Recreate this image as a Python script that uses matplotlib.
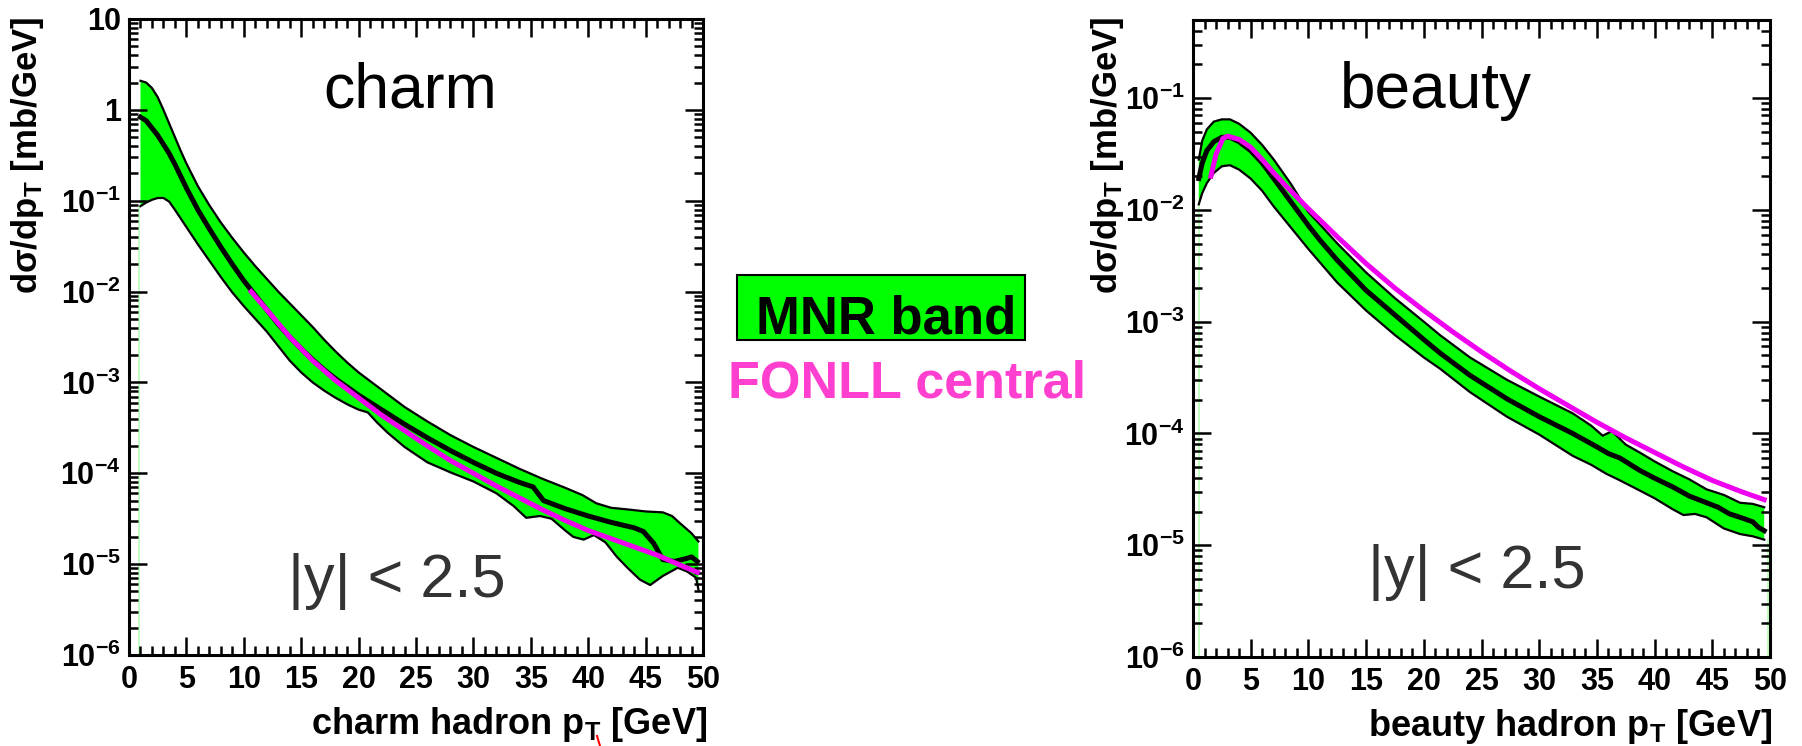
import numpy as np
import matplotlib
matplotlib.use("Agg")
import matplotlib.pyplot as plt
from matplotlib.ticker import FixedLocator, FixedFormatter, LogLocator, MultipleLocator, NullFormatter
from matplotlib.patches import Rectangle
from matplotlib.lines import Line2D

plt.rcParams['font.family'] = ['Liberation Sans', 'DejaVu Sans']
plt.rcParams['mathtext.fontset'] = 'custom'
plt.rcParams['mathtext.rm'] = 'Liberation Sans:bold'
plt.rcParams['mathtext.bf'] = 'Liberation Sans:bold'
plt.rcParams['mathtext.it'] = 'Liberation Sans:bold'
plt.rcParams['mathtext.sf'] = 'Liberation Sans:bold'
plt.rcParams['mathtext.default'] = 'rm'

# ---------------- data (log10 of dsigma/dpT in mb/GeV) ----------------
# charm
charm_up_pt = [1.0, 1.5, 2.0, 2.5, 3.0, 3.5, 4.0, 4.5, 5.0, 6.0, 7.0, 8.0, 9.0, 10.0, 11.0, 12.0,
               13.0, 14.0, 15.0, 16.0, 17.0, 18.0, 19.0, 20.0, 22.0, 24.0, 26.0, 28.0, 30.0, 32.0,
               34.0, 36.0, 38.0, 39.5, 40.7, 42.0, 43.6, 45.0, 46.5, 47.3, 48.0, 49.0, 49.6]
charm_up_log = [0.32, 0.30, 0.24, 0.14, 0.0, -0.15, -0.30, -0.45, -0.59, -0.84, -1.05, -1.24, -1.41,
                -1.57, -1.72, -1.86, -2.00, -2.13, -2.26, -2.39, -2.53, -2.66, -2.78, -2.89, -3.08,
                -3.27, -3.43, -3.58, -3.71, -3.83, -3.95, -4.06, -4.16, -4.24, -4.33, -4.38, -4.40,
                -4.42, -4.43, -4.47, -4.55, -4.66, -4.75]
charm_mid_pt = [1.0, 1.5, 2.0, 2.5, 3.0, 3.5, 4.0, 4.5, 5.0, 6.0, 7.0, 8.0, 9.0, 10.0, 11.0, 12.0,
                13.0, 14.0, 15.0, 16.0, 17.0, 18.0, 20.0, 22.0, 24.0, 26.0, 28.0, 30.0, 32.0, 34.0,
                35.2, 36.1, 38.0, 40.0, 42.0, 44.0, 44.8, 45.7, 46.5, 47.5, 48.5, 49.0, 49.5]
charm_mid_log = [-0.08, -0.12, -0.20, -0.28, -0.38, -0.48, -0.60, -0.73, -0.86, -1.10, -1.31, -1.51,
                 -1.70, -1.88, -2.04, -2.20, -2.36, -2.50, -2.63, -2.75, -2.86, -2.96, -3.14, -3.30,
                 -3.46, -3.61, -3.75, -3.88, -4.00, -4.10, -4.15, -4.30, -4.39, -4.47, -4.54, -4.60,
                 -4.64, -4.77, -4.95, -4.97, -4.94, -4.92, -4.97]
charm_lo_pt = [1.0, 1.5, 2.0, 2.5, 3.0, 3.5, 4.0, 5.0, 6.0, 7.0, 8.0, 9.0, 10.0, 11.0, 12.0, 13.0,
               14.0, 15.0, 16.0, 17.0, 18.0, 19.0, 20.0, 20.8, 21.6, 22.5, 24.0, 26.0, 28.0, 30.0,
               32.0, 33.5, 34.6, 35.8, 36.8, 38.0, 38.7, 39.6, 40.5, 41.5, 42.5, 43.5, 44.5, 45.4,
               46.5, 47.8, 48.6, 49.4, 49.6]
charm_lo_log = [-1.06, -1.02, -0.99, -0.97, -0.97, -1.01, -1.10, -1.29, -1.48, -1.66, -1.84, -2.01,
                -2.16, -2.30, -2.44, -2.60, -2.76, -2.89, -3.00, -3.09, -3.17, -3.24, -3.30, -3.33,
                -3.44, -3.55, -3.71, -3.88, -3.99, -4.09, -4.22, -4.36, -4.49, -4.47, -4.50, -4.63,
                -4.70, -4.73, -4.68, -4.76, -4.92, -5.05, -5.17, -5.23, -5.13, -5.04, -5.08, -5.15,
                -5.28]
charm_fonll_pt = [10.5, 12, 14, 16, 18, 20, 22, 24, 26, 28, 30, 32, 34, 36, 38, 40, 42, 44, 46, 48, 49.7]
charm_fonll_log = [-1.98, -2.20, -2.50, -2.76, -2.98, -3.17, -3.36, -3.53, -3.70, -3.86, -4.00,
                   -4.14, -4.27, -4.40, -4.52, -4.63, -4.72, -4.81, -4.90, -5.01, -5.10]

# beauty
beauty_up_pt = [0.5, 0.8, 1.2, 1.8, 2.5, 3.2, 4.0, 5.0, 6.0, 7.0, 8.5, 10, 11, 12.5, 15, 17.5, 20,
                21.4, 24, 27.2, 30, 32.9, 34.5, 35.5, 36.3, 37.5, 38.7, 40.0, 41.6, 43, 44.5, 46,
                47.4, 48.5, 49.5]
beauty_up_log = [-1.55, -1.38, -1.28, -1.21, -1.19, -1.19, -1.23, -1.31, -1.42, -1.55, -1.77, -2.02,
                 -2.13, -2.30, -2.56, -2.79, -3.00, -3.12, -3.32, -3.52, -3.67, -3.82, -3.93, -4.02,
                 -3.98, -4.10, -4.17, -4.25, -4.34, -4.41, -4.50, -4.55, -4.62, -4.63, -4.66]
beauty_mid_pt = [0.5, 0.8, 1.2, 1.8, 2.5, 3.2, 4.0, 5.0, 6.0, 7.0, 8.5, 10, 11, 12.5, 15, 17.5, 20,
                 21.4, 24, 27.2, 30, 32.9, 35, 36, 37, 38.7, 40, 41.6, 43, 44.5, 45.5, 46.5, 47.4,
                 48.5, 49.0, 49.5]
beauty_mid_log = [-1.72, -1.58, -1.47, -1.39, -1.35, -1.35, -1.39, -1.47, -1.58, -1.72, -1.93, -2.14,
                  -2.27, -2.45, -2.72, -2.94, -3.16, -3.28, -3.48, -3.69, -3.85, -4.00, -4.12, -4.18,
                  -4.22, -4.33, -4.40, -4.48, -4.56, -4.62, -4.66, -4.72, -4.75, -4.79, -4.84, -4.87]
beauty_lo_pt = [0.5, 0.8, 1.2, 1.8, 2.5, 3.2, 4.0, 5.0, 6.0, 7.0, 8.5, 10, 11, 12.5, 15, 17.5, 20,
                21.4, 24, 27.2, 30, 32.9, 34.5, 35.8, 37, 38.7, 40, 41.6, 42.5, 43.5, 44.5, 46, 47.4,
                48.5, 49.5]
beauty_lo_log = [-1.95, -1.85, -1.76, -1.67, -1.61, -1.60, -1.64, -1.72, -1.83, -1.97, -2.16, -2.35,
                 -2.47, -2.65, -2.90, -3.12, -3.32, -3.42, -3.63, -3.85, -4.01, -4.20, -4.28, -4.36,
                 -4.42, -4.51, -4.58, -4.68, -4.73, -4.72, -4.75, -4.85, -4.90, -4.92, -4.95]
beauty_fonll_pt = [1.5, 2.0, 2.6, 3.0, 4.0, 5.0, 6.0, 7.0, 8.0, 10, 12.5, 15, 17.5, 20, 22.5, 25,
                   27.5, 30, 32.5, 35, 37.5, 40, 42.5, 45, 47.5, 49.7]
beauty_fonll_log = [-1.72, -1.50, -1.36, -1.34, -1.37, -1.44, -1.55, -1.67, -1.78, -1.99, -2.24,
                    -2.48, -2.70, -2.90, -3.09, -3.27, -3.44, -3.60, -3.75, -3.90, -4.04, -4.17,
                    -4.30, -4.42, -4.52, -4.60]

y_ticks_charm = [1e-6, 1e-5, 1e-4, 1e-3, 1e-2, 1e-1, 1, 10]
y_labels_charm = [r'$10^{-6}$', r'$10^{-5}$', r'$10^{-4}$', r'$10^{-3}$', r'$10^{-2}$',
                  r'$10^{-1}$', '1', '10']
y_ticks_beauty = [1e-6, 1e-5, 1e-4, 1e-3, 1e-2, 1e-1]
y_labels_beauty = [r'$10^{-6}$', r'$10^{-5}$', r'$10^{-4}$', r'$10^{-3}$', r'$10^{-2}$', r'$10^{-1}$']
x_ticks = [0, 5, 10, 15, 20, 25, 30, 35, 40, 45, 50]

GREEN = '#00ff00'
MAG = '#f000f0'

W, H = 1802, 746
fig = plt.figure(figsize=(W / 100, H / 100), dpi=100)


def fx(x):
    return x / W


def fy(y):
    return 1 - y / H


def make_axes(l, r, t, b):
    return fig.add_axes([fx(l), fy(b), fx(r) - fx(l), (b - t) / H])


def style(ax, ylim, yt, yl):
    ax.set_yscale('log')
    ax.set_xlim(0, 50)
    ax.set_ylim(*ylim)
    ax.xaxis.set_major_locator(FixedLocator(x_ticks))
    ax.xaxis.set_minor_locator(MultipleLocator(1))
    ax.yaxis.set_major_locator(FixedLocator(yt))
    ax.yaxis.set_major_formatter(FixedFormatter(yl))
    ax.yaxis.set_minor_locator(LogLocator(base=10, subs=np.arange(2, 10), numticks=20))
    ax.yaxis.set_minor_formatter(NullFormatter())
    ax.tick_params(which='both', direction='in', top=True, right=True, width=1.8, colors='black')
    ax.tick_params(which='major', length=13)
    ax.tick_params(which='minor', length=6.5)
    ax.tick_params(axis='y', which='major', labelsize=22, pad=6)
    ax.tick_params(axis='x', which='major', labelsize=22, pad=7)
    for lab in ax.get_xticklabels() + ax.get_yticklabels():
        lab.set_fontweight('bold')
    for s in ax.spines.values():
        s.set_linewidth(2.2)


def draw(ax, up_pt, up_log, mid_pt, mid_log, lo_pt, lo_log, f_pt, f_log):
    up = 10 ** np.array(up_log)
    lo = 10 ** np.array(lo_log)
    mid = 10 ** np.array(mid_log)
    fo = 10 ** np.array(f_log)
    px = np.concatenate([up_pt, lo_pt[::-1]])
    py = np.concatenate([up, lo[::-1]])
    ax.fill(px, py, color=GREEN, lw=0, zorder=1)
    ax.plot(up_pt, up, color='black', lw=1.6, zorder=2)
    ax.plot(lo_pt, lo, color='black', lw=1.6, zorder=2)
    ax.plot(mid_pt, mid, color='black', lw=3.6, zorder=3)
    ax.plot(f_pt, fo, color=MAG, lw=3.6, zorder=4, solid_capstyle='butt')


# ---------------- charm ----------------
ax1 = make_axes(129, 703, 19, 655)
draw(ax1, charm_up_pt, charm_up_log, charm_mid_pt, charm_mid_log, charm_lo_pt, charm_lo_log,
     charm_fonll_pt, charm_fonll_log)
ax1.plot([charm_lo_pt[0] - 0.1] * 2, [1e-6, 10 ** charm_lo_log[0]], color='#b8ffb8', lw=1.2, zorder=1)
style(ax1, (1e-6, 10), y_ticks_charm, y_labels_charm)

# ---------------- beauty ----------------
ax2 = make_axes(1193, 1770, 20, 657)
draw(ax2, beauty_up_pt, beauty_up_log, beauty_mid_pt, beauty_mid_log, beauty_lo_pt, beauty_lo_log,
     beauty_fonll_pt, beauty_fonll_log)
ax2.plot([beauty_lo_pt[0]] * 2, [1e-6, 10 ** beauty_lo_log[0]], color='#b8ffb8', lw=1.2, zorder=1)
ax2.plot([49.8] * 2, [1e-6, 10 ** beauty_lo_log[-1]], color='#b8ffb8', lw=1.2, zorder=1)
style(ax2, (1e-6, 0.5), y_ticks_beauty, y_labels_beauty)

# ---------------- texts ----------------
ylab = r'd$\sigma$/dp$_{T}$ [mb/GeV]'
fig.text(fx(28), fy(17), ylab, rotation=90, ha='center', va='top', fontsize=25, fontweight='bold')
fig.text(fx(1108), fy(17), ylab, rotation=90, ha='center', va='top', fontsize=25, fontweight='bold')
fig.text(fx(707), fy(734), r'charm hadron p$_{T}$ [GeV]', ha='right', va='baseline',
         fontsize=26, fontweight='bold')
fig.text(fx(1772), fy(736), r'beauty hadron p$_{T}$ [GeV]', ha='right', va='baseline',
         fontsize=26, fontweight='bold')

fig.text(fx(410), fy(108), 'charm', ha='center', va='baseline', fontsize=45)
fig.text(fx(1436), fy(108), 'beauty', ha='center', va='baseline', fontsize=46)
fig.text(fx(397), fy(597), '|y| < 2.5', ha='center', va='baseline', fontsize=44, color='#333333')
fig.text(fx(1477), fy(588), '|y| < 2.5', ha='center', va='baseline', fontsize=44, color='#333333')

# legend-like annotation
fig.patches.append(Rectangle((fx(737), fy(340)), fx(1025) - fx(737), (340 - 275) / H,
                             transform=fig.transFigure, facecolor=GREEN, edgecolor='black',
                             lw=1.5, figure=fig))
fig.text(fx(886), fy(333), 'MNR band', ha='center', va='baseline', fontsize=38, fontweight='bold')
fig.text(fx(907), fy(397), 'FONLL central', ha='center', va='baseline', fontsize=37.5,
         fontweight='bold', color='#ff3fd0')

# small red mark present in the original
fig.lines.append(Line2D([fx(597), fx(600)], [fy(736), fy(746)], transform=fig.transFigure,
                        color='red', lw=1.5))

fig.savefig('out.png', dpi=100)
